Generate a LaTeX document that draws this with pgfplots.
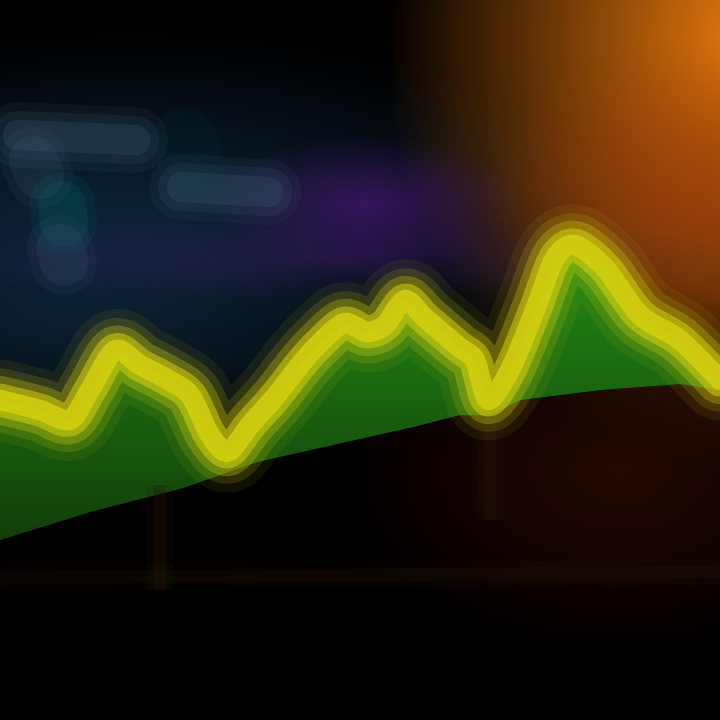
\documentclass[border=0pt]{standalone}
\usepackage{pgfplots}
\pgfplotsset{compat=1.18}
\usetikzlibrary{fadings}
\tikzfading[name=glow, inner color=transparent!0, outer color=transparent!100]
\definecolor{glowor}{HTML}{E8780C}
\definecolor{glowred}{HTML}{A03A0C}
\definecolor{haze}{HTML}{4A1878}
\definecolor{navy}{HTML}{0E2438}
\definecolor{ylw}{HTML}{D4D010}
\definecolor{grn}{HTML}{248A14}
\definecolor{smudge}{HTML}{46667E}
\definecolor{brn}{HTML}{2A1A08}
\definecolor{darkred}{HTML}{240802}
\pgfplotstableread{
x y
0 400
40 410
70 420
90 390
115 350
140 365
165 378
190 395
210 435
228 452
250 425
275 397
300 365
318 345
344 323
367 332
385 325
405 300
425 318
459 347
475 360
488 400
510 370
535 310
555 258
575 245
605 268
640 315
680 340
720 380
}\trend
\pgfplotsset{
  smudgeA/.style={smudge,line width=26pt,opacity=0.1,line cap=round},
  smudgeB/.style={smudge,line width=19pt,opacity=0.15,line cap=round},
  smudgeC/.style={smudge,line width=12pt,opacity=0.22,line cap=round},
  ylwline/.style={ylw,line join=round,line cap=round,smooth},
}
\begin{document}
\begin{tikzpicture}
\begin{axis}[width=10cm,height=10cm,scale only axis,hide axis,
  xmin=0,xmax=720,ymin=0,ymax=720,y dir=reverse,clip=true]
\path[fill=black] (axis cs:0,0) rectangle (axis cs:720,720);
% background glows
\fill[navy,path fading=glow] (axis cs:130,240) ellipse [x radius=7cm,y radius=3cm];
\fill[navy,path fading=glow,opacity=0.6] (axis cs:60,300) ellipse [x radius=4cm,y radius=2.5cm];
\fill[glowor,path fading=glow] (axis cs:745,40) ellipse [x radius=5cm,y radius=6cm];
\fill[glowred,path fading=glow,opacity=0.6] (axis cs:690,200) ellipse [x radius=3cm,y radius=2.2cm];
\fill[darkred,path fading=glow] (axis cs:620,470) ellipse [x radius=4cm,y radius=2.6cm];
\fill[haze,path fading=glow,opacity=0.7] (axis cs:365,205) ellipse [x radius=2.2cm,y radius=1cm];
\fill[haze,path fading=glow,opacity=0.3] (axis cs:300,258) ellipse [x radius=6cm,y radius=0.6cm];
% blurred text smudges
\addplot[smudgeA] coordinates {(18,135)(135,140)};
\addplot[smudgeB] coordinates {(18,135)(135,140)};
\addplot[smudgeC] coordinates {(18,135)(135,140)};
\addplot[smudgeA] coordinates {(182,187)(268,192)};
\addplot[smudgeB] coordinates {(182,187)(268,192)};
\addplot[smudgeC] coordinates {(182,187)(268,192)};
\addplot[smudgeA] coordinates {(33,160)(40,175)};
\addplot[smudgeB] coordinates {(33,160)(40,175)};
\addplot[smudgeA,teal] coordinates {(62,205)(64,222)};
\addplot[smudgeB,teal] coordinates {(62,205)(64,222)};
\addplot[smudgeA] coordinates {(60,248)(64,262)};
\addplot[smudgeB] coordinates {(60,248)(64,262)};
\addplot[smudgeA,teal!60!black] coordinates {(185,140)(190,160)};
% green area
\addplot[draw=none,top color=grn,bottom color=grn!45!black,shading angle=0]
  coordinates {(0,400)(40,410)(70,420)(90,390)(115,350)(140,365)(165,378)(190,395)(210,435)(228,452)(250,425)(275,397)(300,365)(318,345)(344,323)(367,332)(385,325)(405,300)(425,318)(459,347)(475,360)(488,400)(510,370)(535,310)(555,258)(575,245)(605,268)(640,315)(680,340)(720,380)
  (720,390)(680,384)(600,390)(520,400)(490,415)(460,415)(413,427)(257,462)(183,488)(90,512)(0,540)} -- cycle;
% faint grid remnants
\addplot[brn,line width=10pt,opacity=0.15] coordinates {(160,485)(160,590)};
\addplot[brn,line width=5pt,opacity=0.3] coordinates {(160,485)(160,590)};
\addplot[brn,line width=10pt,opacity=0.15] coordinates {(490,405)(490,520)};
\addplot[brn,line width=5pt,opacity=0.3] coordinates {(490,405)(490,520)};
\addplot[brn,line width=10pt,opacity=0.1] coordinates {(0,578)(720,572)};
\addplot[brn,line width=5pt,opacity=0.2] coordinates {(0,578)(720,572)};
% yellow line with glow
\addplot[ylwline,line width=32pt,opacity=0.08] table {\trend};
\addplot[ylwline,line width=25pt,opacity=0.16] table {\trend};
\addplot[ylwline,line width=19pt,opacity=0.3] table {\trend};
\addplot[ylwline,line width=13pt,opacity=0.55] table {\trend};
\addplot[ylwline,line width=8pt,opacity=0.85] table {\trend};
\end{axis}
\end{tikzpicture}
\end{document}
